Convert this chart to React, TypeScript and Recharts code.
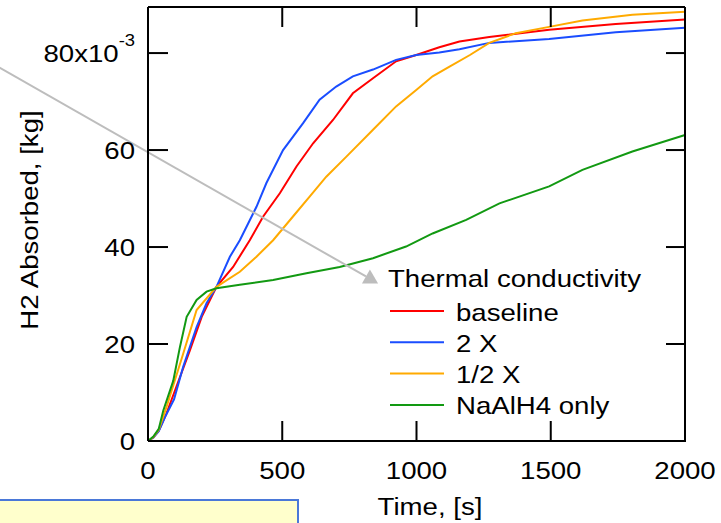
import React from 'react';
import { LineChart, Line, XAxis, YAxis, Legend, ReferenceLine } from 'recharts';

// time in s, H2 absorbed in units of 1e-3 kg
const baseline = [
  { t: 0, v: 0 }, { t: 20, v: 0.7 }, { t: 40, v: 2.1 }, { t: 69, v: 5.7 }, { t: 87, v: 8.4 },
  { t: 156, v: 18.7 }, { t: 200, v: 25.6 }, { t: 255, v: 31.8 }, { t: 317, v: 35.9 },
  { t: 379, v: 41.4 }, { t: 429, v: 46.3 }, { t: 491, v: 51.1 }, { t: 553, v: 56.6 },
  { t: 615, v: 61.4 }, { t: 689, v: 66.2 }, { t: 763, v: 71.7 }, { t: 838, v: 74.8 },
  { t: 924, v: 78.3 }, { t: 999, v: 79.6 }, { t: 1085, v: 81.2 }, { t: 1160, v: 82.4 },
  { t: 1271, v: 83.3 }, { t: 1494, v: 84.8 }, { t: 1742, v: 86.0 }, { t: 2000, v: 86.9 },
];

const twoX = [
  { t: 0, v: 0 }, { t: 20, v: 0.7 }, { t: 40, v: 2.0 }, { t: 63, v: 4.9 }, { t: 97, v: 8.6 },
  { t: 131, v: 15.3 }, { t: 181, v: 23.5 }, { t: 218, v: 28.4 }, { t: 255, v: 31.8 },
  { t: 305, v: 38.0 }, { t: 342, v: 41.4 }, { t: 404, v: 48.3 }, { t: 441, v: 53.2 },
  { t: 503, v: 60.0 }, { t: 577, v: 65.5 }, { t: 639, v: 70.4 }, { t: 701, v: 73.1 },
  { t: 763, v: 75.2 }, { t: 838, v: 76.6 }, { t: 924, v: 78.6 }, { t: 999, v: 79.6 },
  { t: 1085, v: 80.1 }, { t: 1160, v: 80.8 }, { t: 1271, v: 82.1 }, { t: 1494, v: 82.9 },
  { t: 1742, v: 84.3 }, { t: 2000, v: 85.2 },
];

const halfX = [
  { t: 0, v: 0 }, { t: 20, v: 0.8 }, { t: 40, v: 2.3 }, { t: 69, v: 7.0 }, { t: 131, v: 18.0 },
  { t: 181, v: 27.0 }, { t: 255, v: 31.8 }, { t: 342, v: 34.9 }, { t: 404, v: 38.0 },
  { t: 466, v: 41.4 }, { t: 540, v: 46.3 }, { t: 602, v: 50.4 }, { t: 664, v: 54.5 },
  { t: 738, v: 58.6 }, { t: 838, v: 64.2 }, { t: 924, v: 69.0 }, { t: 999, v: 72.4 },
  { t: 1060, v: 75.2 }, { t: 1123, v: 77.2 }, { t: 1199, v: 79.6 }, { t: 1271, v: 82.1 },
  { t: 1370, v: 84.1 }, { t: 1494, v: 85.4 }, { t: 1618, v: 86.7 }, { t: 1804, v: 87.9 },
  { t: 2000, v: 88.5 },
];

const naalh4Only = [
  { t: 0, v: 0 }, { t: 20, v: 0.9 }, { t: 40, v: 2.5 }, { t: 57, v: 6.3 }, { t: 94, v: 12.4 },
  { t: 119, v: 19.4 }, { t: 144, v: 25.6 }, { t: 181, v: 29.1 }, { t: 218, v: 30.8 },
  { t: 255, v: 31.5 }, { t: 342, v: 32.2 }, { t: 466, v: 33.2 }, { t: 590, v: 34.6 },
  { t: 714, v: 35.9 }, { t: 838, v: 37.7 }, { t: 961, v: 40.1 }, { t: 1060, v: 42.8 },
  { t: 1185, v: 45.6 }, { t: 1309, v: 49.0 }, { t: 1494, v: 52.5 }, { t: 1618, v: 55.9 },
  { t: 1804, v: 59.7 }, { t: 2000, v: 63.1 },
];

const seriesNames = ['baseline', '2 X', '1/2 X', 'NaAlH4 only'];
const xTicks = [0, 500, 1000, 1500, 2000];
const yTicks = [0, 20, 40, 60, 80];
const arrowSegment = [{ x: -553, y: 77 }, { x: 857, y: 32.5 }];

const FONT = '"Liberation Sans", Arial, sans-serif';
const SX = 1.15;
const TICK = 20;
const W = 721;
const H = 523;
const MARGIN = { top: 6, right: 35, bottom: 81, left: 147 };
// frame edges (axis lines sit 1px inside the margins)
const PLOT_TOP = MARGIN.top + 1;
const PLOT_RIGHT = W - MARGIN.right;

// bottom ticks also mirror onto the top frame
const BottomTick = ({ x, y, payload }: any) => (
  <g>
    <line x1={x} x2={x} y1={y} y2={y - TICK} stroke="#000" strokeWidth={2} />
    <line x1={x} x2={x} y1={PLOT_TOP} y2={PLOT_TOP + TICK} stroke="#000" strokeWidth={2} />
    <text transform={`translate(${x},${y + 38}) scale(${SX},1)`} textAnchor="middle" fontSize={24} fontFamily={FONT} fill="#000">
      {payload.value}
    </text>
  </g>
);

// left ticks also mirror onto the right frame
const LeftTick = ({ x, y, payload }: any) => (
  <g>
    <line x1={x} x2={x + TICK} y1={y} y2={y} stroke="#000" strokeWidth={2} />
    <line x1={PLOT_RIGHT} x2={PLOT_RIGHT - TICK} y1={y} y2={y} stroke="#000" strokeWidth={2} />
    <text transform={`translate(${x - 13},${y + 8.6}) scale(${SX},1)`} textAnchor="end" fontSize={24} fontFamily={FONT} fill="#000">
      {payload.value === 80 ? (
        <>
          80x10<tspan fontSize={16} dy={-16}>-3</tspan>
        </>
      ) : (
        payload.value
      )}
    </text>
  </g>
);

const Arrow = ({ x1, y1, x2, y2 }: any) => {
  const dx = x2 - x1;
  const dy = y2 - y1;
  const len = Math.sqrt(dx * dx + dy * dy);
  const ux = dx / len;
  const uy = dy / len;
  const bx = x2 - 14 * ux;
  const by = y2 - 14 * uy;
  const pts = `${x2},${y2} ${bx - 8 * uy},${by + 8 * ux} ${bx + 8 * uy},${by - 8 * ux}`;
  return (
    <g>
      <line x1={x1} y1={y1} x2={bx} y2={by} stroke="#bdbdbd" strokeWidth={2} />
      <polygon points={pts} fill="#bdbdbd" />
    </g>
  );
};

const renderLegend = ({ payload }: any) => {
  const items = [...(payload || [])].sort((a: any, b: any) => seriesNames.indexOf(a.value) - seriesNames.indexOf(b.value));
  return (
    <svg width={330} height={165}>
      <text transform={`translate(8,29.3) scale(${SX},1)`} fontSize={24} fontFamily={FONT} fill="#000">
        Thermal conductivity
      </text>
      {items.map((p: any, i: number) => {
        const ly = 53 + i * 31.3;
        return (
          <g key={p.value}>
            <line x1={10} x2={64} y1={ly} y2={ly} stroke={p.color} strokeWidth={2} />
            <text transform={`translate(76,${ly + 9.5}) scale(${SX},1)`} fontSize={24} fontFamily={FONT} fill="#000">
              {p.value}
            </text>
          </g>
        );
      })}
    </svg>
  );
};

export default function App() {
  return (
    <div style={{ position: 'absolute', left: 0, top: 0, width: W, height: H, overflow: 'hidden', background: '#fff' }}>
      <LineChart width={W} height={H} margin={MARGIN}>
        <XAxis
          dataKey="t"
          type="number"
          domain={[0, 2000]}
          ticks={xTicks}
          interval={0}
          height={1}
          tickSize={0}
          tickMargin={0}
          axisLine={{ stroke: '#000', strokeWidth: 2 }}
          tickLine={false}
          tick={BottomTick}
        />
        <XAxis
          xAxisId="top"
          orientation="top"
          dataKey="t"
          type="number"
          domain={[0, 2000]}
          height={1}
          axisLine={{ stroke: '#000', strokeWidth: 2 }}
          tickLine={false}
          tick={false}
        />
        <YAxis
          type="number"
          domain={[0, 89.5]}
          ticks={yTicks}
          interval={0}
          width={1}
          tickSize={0}
          tickMargin={0}
          axisLine={{ stroke: '#000', strokeWidth: 2 }}
          tickLine={false}
          tick={LeftTick}
        />
        <YAxis
          yAxisId="right"
          orientation="right"
          type="number"
          domain={[0, 89.5]}
          width={1}
          axisLine={{ stroke: '#000', strokeWidth: 2 }}
          tickLine={false}
          tick={false}
        />
        <Line data={baseline} dataKey="v" name="baseline" type="linear" stroke="#ff0000" strokeWidth={2} dot={false} isAnimationActive={false} />
        <Line data={twoX} dataKey="v" name="2 X" type="linear" stroke="#1a4dff" strokeWidth={2} dot={false} isAnimationActive={false} />
        <Line data={halfX} dataKey="v" name="1/2 X" type="linear" stroke="#ffaa00" strokeWidth={2} dot={false} isAnimationActive={false} />
        <Line data={naalh4Only} dataKey="v" name="NaAlH4 only" type="linear" stroke="#129912" strokeWidth={2} dot={false} isAnimationActive={false} />
        <ReferenceLine segment={arrowSegment} ifOverflow="visible" shape={Arrow} />
        <Legend
          layout="vertical"
          align="center"
          verticalAlign="middle"
          content={renderLegend}
          wrapperStyle={{ left: 380, top: 258, width: 330, height: 165 }}
        />
        <text transform={`translate(38,220) rotate(-90) scale(${SX},1)`} textAnchor="middle" fontSize={24} fontFamily={FONT} fill="#000">
          H2 Absorbed, [kg]
        </text>
        <text transform={`translate(430,515) scale(${SX},1)`} textAnchor="middle" fontSize={24} fontFamily={FONT} fill="#000">
          Time, [s]
        </text>
      </LineChart>
      <div
        style={{
          position: 'absolute',
          left: -4,
          top: 499,
          width: 303,
          height: 40,
          boxSizing: 'border-box',
          background: '#ffffcc',
          border: '2px solid #4a78d8',
        }}
      />
    </div>
  );
}
